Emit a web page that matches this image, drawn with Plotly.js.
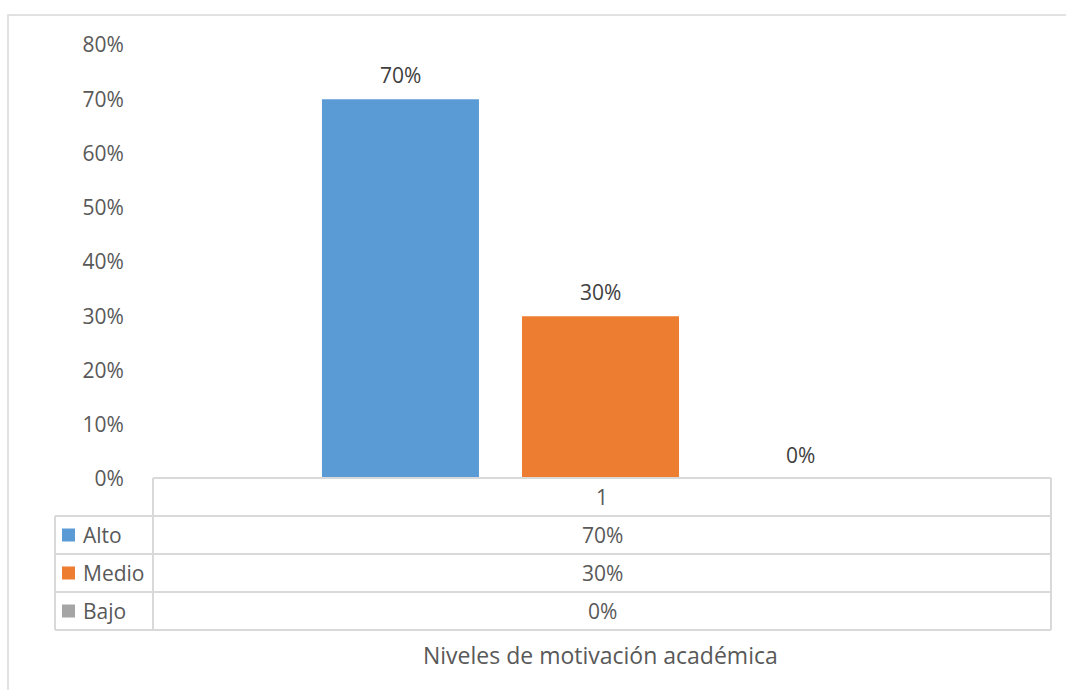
<!DOCTYPE html>
<html>
<head>
<meta charset="utf-8">
<script src="https://cdn.plot.ly/plotly-3.0.1.min.js"></script>
<style>html,body{margin:0;padding:0;background:#fff;}#chart{width:1066px;height:690px;}</style>
</head>
<body>
<div id="chart"></div>
<script>
const categories = ["1"];
const seriesNames = ["Alto", "Medio", "Bajo"];
const alto = [0.70];
const medio = [0.30];
const bajo = [0.00];
const seriesValues = [alto, medio, bajo];
const seriesColors = ["#5B9BD5", "#ED7D31", "#A5A5A5"];
const yTickVals = [0, 0.1, 0.2, 0.3, 0.4, 0.5, 0.6, 0.7, 0.8];
const xAxisTitle = "Niveles de motivación académica";

const FONT = "Open Sans, Noto Sans, sans-serif";
const W = 1066, H = 690;
const L = 152, R = 1049, T = 45, B = 479;
const px = v => (v - L) / (R - L);
const py = v => (B - v) / (B - T);
const pct = v => Math.round(v * 100) + "%";

const traces = seriesNames.map((n, i) => ({
  type: "bar",
  name: n,
  x: categories,
  y: seriesValues[i],
  marker: {color: seriesColors[i]},
  hoverinfo: "none"
}));

const lineColor = "#D9D9D9";
const shapes = [];
function hline(y, x0, x1) {
  shapes.push({type: "line", xref: "paper", yref: "paper", x0: px(x0), x1: px(x1), y0: py(y), y1: py(y), line: {color: lineColor, width: 2}});
}
function vline(x, y0, y1) {
  shapes.push({type: "line", xref: "paper", yref: "paper", x0: px(x), x1: px(x), y0: py(y0), y1: py(y1), line: {color: lineColor, width: 2}});
}
// outer chart border
shapes.push({type: "rect", xref: "paper", yref: "paper", x0: px(8), x1: px(1075), y0: py(15), y1: py(700), line: {color: lineColor, width: 1.5}});
// data table grid
const TL = 153, TR = 1051;
const rowTops = [478, 516, 554, 592, 630];
hline(rowTops[0], TL, TR);
for (let k = 1; k < rowTops.length; k++) hline(rowTops[k], 55, TR);
vline(55, 516, 630);
vline(TL, 478, 630);
vline(TR, 478, 630);

const annotations = [];
const tf = {family: FONT, size: 21, color: "#595959"};
// bar value labels
seriesNames.forEach((n, i) => {
  annotations.push({xref: "x", yref: "y", x: 0, y: seriesValues[i][0], xshift: (i - 1) * 200, yshift: 24, text: pct(seriesValues[i][0]), showarrow: false, font: {family: FONT, size: 21, color: "#404040"}, xanchor: "center", yanchor: "middle"});
});
annotations.push({xref: "paper", yref: "paper", x: px((TL + TR) / 2), y: py(497), text: categories[0], showarrow: false, font: tf, xanchor: "center", yanchor: "middle"});
seriesNames.forEach((n, i) => {
  const cy = (rowTops[i + 1] + rowTops[i + 2]) / 2;
  annotations.push({xref: "paper", yref: "paper", x: px((TL + TR) / 2), y: py(cy), text: pct(seriesValues[i][0]), showarrow: false, font: tf, xanchor: "center", yanchor: "middle"});
  annotations.push({xref: "paper", yref: "paper", x: px(81), y: py(cy), text: n, showarrow: false, font: tf, xanchor: "left", yanchor: "middle"});
  shapes.push({type: "rect", xref: "paper", yref: "paper", x0: px(62), x1: px(75), y0: py(cy + 6.5), y1: py(cy - 6.5), fillcolor: seriesColors[i], line: {width: 0}});
});
annotations.push({xref: "paper", yref: "paper", x: px(600), y: py(655), text: xAxisTitle, showarrow: false, font: {family: FONT, size: 23, color: "#595959"}, xanchor: "center", yanchor: "middle"});

const layout = {
  width: W, height: H,
  margin: {l: L, r: W - R, t: T, b: H - B, pad: 0},
  paper_bgcolor: "#fff", plot_bgcolor: "#fff",
  showlegend: false,
  barmode: "group",
  bargap: 0.331,
  bargroupgap: 0.215,
  font: {family: FONT, color: "#595959"},
  xaxis: {type: "category", range: [-0.5, 0.5], showticklabels: false, showgrid: false, zeroline: false, showline: false, ticks: ""},
  yaxis: {range: [0, 0.8], tickvals: yTickVals, ticktext: yTickVals.map(pct), showgrid: false, zeroline: false, showline: false, ticks: "outside", ticklen: 23, tickcolor: "rgba(0,0,0,0)", tickfont: {family: FONT, size: 21, color: "#595959"}},
  shapes: shapes,
  annotations: annotations
};

Plotly.newPlot("chart", traces, layout, {displayModeBar: false, staticPlot: true});
</script>
</body>
</html>
